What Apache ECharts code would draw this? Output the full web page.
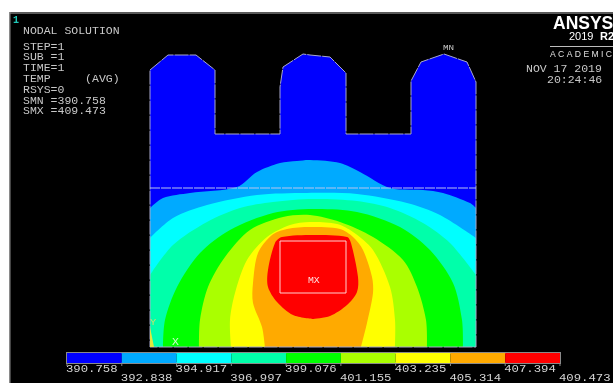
<!DOCTYPE html>
<html>
<head>
<meta charset="utf-8">
<title>NODAL SOLUTION</title>
<style>
html,body{margin:0;padding:0;background:#fff;}
#chart{width:613px;height:383px;filter:blur(0.35px);}
</style>
<script src="https://cdn.jsdelivr.net/npm/echarts@6/dist/echarts.min.js"></script>
</head>
<body>
<div id="chart"></div>
<script>
//legend levels and band colours
var levels = [390.758,392.838,394.917,396.997,399.076,401.155,403.235,405.314,407.394,409.473];
var levelLabels = ['390.758','392.838','394.917','396.997','399.076','401.155','403.235','405.314','407.394','409.473'];
var bandColors = ['#0000ff','#00aaff','#00ffff','#00ffaa','#00ff00','#aaff00','#ffff00','#ffaa00','#ff0000'];

//part outline
var bodyOutline = [[150,70],[168,55],[196,55],[215,70],[215,134],[280,134],[280,87],[283,67],[303,54],[310,55],[330,57],[346,73],[346,134],[411,134],[411,81],[421,62],[444,54],[467,62],[476,82],[476,347],[150,347]];
var heatSource = [[280,241],[346,241],[346,293],[280,293]];
var interfaceLine = [[150,188],[476,188]];

//contour lines, one for each level above the lowest
var contour1 = [[150,208],[163,198],[190,193],[237,187],[257,172],[280,163],[297,161],[310,160],[340,163],[360,172],[390,188],[423,190],[443,193],[470,203],[476,208]];
var contour2 = [[150,238],[173,218],[207,205],[257,195],[307,193],[357,194],[407,203],[440,215],[476,238]];
var contour3 = [[150,275],[173,245],[207,222],[240,208],[273,202],[313,199],[357,201],[390,208],[423,223],[450,243],[476,275]];
var contour4 = [[163,347],[165,320],[177,287],[200,253],[230,230],[273,213],[313,209],[357,212],[400,227],[430,250],[453,283],[462,320],[463,347]];
var contour5 = [[199,347],[200,320],[208,287],[225,257],[250,230],[283,217],[310,215],[340,222],[373,237],[403,260],[417,287],[426,320],[427,347]];
var contour6 = [[231,347],[230,320],[235,293],[247,260],[267,237],[290,225],[310,222],[337,224],[353,232],[373,250],[390,287],[395,320],[395,347]];
var contour7 = [[265,347],[262,327],[253,303],[253,283],[258,253],[272,235],[287,229],[310,227],[340,229],[353,237],[363,250],[372,277],[373,293],[367,323],[361,347]];
var contour8 = [[313,319],[293,315],[277,302],[268,287],[268,270],[275,243],[282,237],[313,235],[347,237],[351,243],[358,277],[357,292],[347,305],[330,316],[313,319]];
var contours = [contour1,contour2,contour3,contour4,contour5,contour6,contour7,contour8];

//text blocks
var infoLines = ['STEP=1','SUB =1','TIME=1','TEMP     (AVG)','RSYS=0','SMN =390.758','SMX =409.473'];
var infoTops = [47,57,68,79,90,101,111];

function toPixels(api,list){
	var pts = [];
	for(var i=0;i<list.length;i++){
		pts.push(api.coord(list[i]));
	}
	return pts;
}

function renderPart(params,api){
	var children = [];
	var bottom = bodyOutline[bodyOutline.length-1][1];
	children.push({type:'polygon',shape:{points:toPixels(api,bodyOutline)},style:{fill:bandColors[0],stroke:null}});
	for(var i=0;i<contours.length;i++){
		var line = contours[i];
		var first = line[0];
		var last = line[line.length-1];
		//everything below the chord, down to the bottom of the part
		children.push({type:'polygon',shape:{points:toPixels(api,[first,[first[0],bottom],[last[0],bottom],last])},style:{fill:bandColors[i+1],stroke:null}});
		children.push({type:'polyline',shape:{points:toPixels(api,line),smooth:0.3},style:{fill:bandColors[i+1],stroke:null}});
	}
	children.push({type:'polygon',shape:{points:toPixels(api,bodyOutline)},style:{fill:null,stroke:'#a8a8cc',lineWidth:1,lineDash:[14,1]}});
	children.push({type:'polyline',shape:{points:toPixels(api,interfaceLine)},style:{fill:null,stroke:'#b8c4ee',lineWidth:1,lineDash:[10,1]}});
	children.push({type:'polygon',shape:{points:toPixels(api,heatSource)},style:{fill:null,stroke:'#ffd0d0',lineWidth:1}});
	return {type:'group',children:children};
}

function renderBand(params,api){
	var i = params.dataIndex;
	var a = api.coord([levels[i],1]);
	var b = api.coord([levels[i+1],0]);
	return {type:'rect',shape:{x:a[0],y:a[1],width:b[0]-a[0],height:b[1]-a[1]},style:{fill:bandColors[i]}};
}

function renderLabel(params,api){
	var i = params.dataIndex;
	var p = api.coord([levels[i],0]);
	return {type:'group',children:[
		{type:'line',shape:{x1:p[0],y1:p[1]+1,x2:p[0],y2:p[1]+3},style:{stroke:'#888',lineWidth:1}},
		{type:'text',x:p[0]-1,y:p[1]+(i%2==0?6:15),scaleX:1.17,style:{text:levelLabels[i],fill:'#d4d4d4',font:'10.5px "Liberation Mono"',textVerticalAlign:'middle',textAlign:'left'}}
	]};
}

function monoText(text,x,y,color,size,align){
	return {type:'text',x:x,y:y,z:20,scaleX:1.15,style:{text:text,fill:color||'#c8c8c8',font:(size||10)+'px "Liberation Mono"',textVerticalAlign:'middle',textAlign:align||'left'}};
}

function sansText(text,x,y,color,font){
	return {type:'text',x:x,y:y,z:20,style:{text:text,fill:color,font:font,textVerticalAlign:'middle',textAlign:'left'}};
}

function buildGraphics(){
	var els = [];
	els.push({type:'rect',shape:{x:10,y:12,width:603,height:2},z:20,style:{fill:'#5a5a5a'}});
	els.push({type:'rect',shape:{x:9,y:12,width:1.5,height:371},z:20,style:{fill:'#8a8a8a'}});
	els.push({type:'text',x:13,y:20,z:20,style:{text:'1',fill:'#20c8b8',font:'bold 10px "Liberation Mono"',textVerticalAlign:'middle'}});
	els.push(monoText('NODAL SOLUTION',23,31));
	for(var i=0;i<infoLines.length;i++){
		els.push(monoText(infoLines[i],23,infoTops[i]));
	}
	els.push(sansText('ANSYS',553,24,'#ffffff','bold 17.5px "Liberation Sans"'));
	els.push(sansText('2019',569,37,'#ffffff','11px "Liberation Sans"'));
	els.push(sansText('R2',600,37,'#ffffff','bold 11px "Liberation Sans"'));
	els.push({type:'rect',shape:{x:550,y:46,width:63,height:1},z:20,style:{fill:'#bdbdbd'}});
	els.push(sansText('A C A D E M I C',550,55,'#e0e0e0','8.6px "Liberation Sans"'));
	els.push(monoText('NOV 17 2019',526,69));
	els.push(monoText('20:24:46',547,80));
	els.push(monoText('MN',443,48,'#c8c8c8',8));
	els.push(monoText('MX',308,281,'#ffe0e0',8.5));
	els.push(monoText('Y',150,323,'#c0e070',9));
	els.push(monoText('X',172,342,'#d0ffd0',10));
	els.push({type:'polygon',shape:{points:[[150,327],[154,347],[150,347]]},z:20,style:{fill:'#e0e840'}});
	return els;
}

function drawChart(){
	var myChart = echarts.init(document.getElementById('chart'),null,{renderer:'canvas'});
	var option = {
		animation:false,
		backgroundColor:'#ffffff',
		grid:[
			{left:10,top:12,right:0,bottom:0,show:true,backgroundColor:'#000000',borderWidth:0},
			{left:67,top:353,width:493,height:10,show:true,backgroundColor:'#000000',borderColor:'#8a8a8a',borderWidth:2,z:5}
		],
		xAxis:[
			{type:'value',gridIndex:0,min:10,max:613,show:false},
			{type:'value',gridIndex:1,min:levels[0],max:levels[levels.length-1],show:false}
		],
		yAxis:[
			{type:'value',gridIndex:0,min:12,max:383,inverse:true,show:false},
			{type:'value',gridIndex:1,min:0,max:1,show:false}
		],
		graphic:buildGraphics(),
		series:[
			{type:'custom',xAxisIndex:0,yAxisIndex:0,data:[0],clip:false,silent:true,renderItem:renderPart},
			{type:'custom',xAxisIndex:1,yAxisIndex:1,data:bandColors,clip:false,silent:true,z:6,renderItem:renderBand},
			{type:'custom',xAxisIndex:1,yAxisIndex:1,data:levelLabels,clip:false,silent:true,z:6,renderItem:renderLabel}
		]
	};
	myChart.setOption(option);
}

drawChart();
</script>
</body>
</html>
